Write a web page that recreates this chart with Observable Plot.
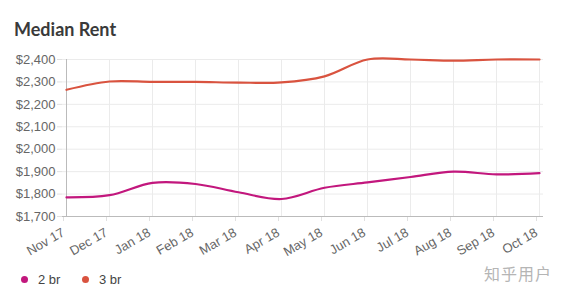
<!DOCTYPE html>
<html>
<head>
<meta charset="utf-8">
<script src="https://cdn.jsdelivr.net/npm/d3@7"></script>
<script src="https://cdn.jsdelivr.net/npm/@observablehq/plot@0.6"></script>
<style>
  body { margin: 0; background: #fff; font-family: "Liberation Sans", sans-serif; width: 569px; height: 294px; overflow: hidden; position: relative; }
  #title { position: absolute; left: 14px; top: 18px; font-size: 18px; font-weight: bold; color: #3a3a3a; font-family: "Lato", "Open Sans", sans-serif; }
  #chart { position: absolute; left: 0; top: 40px; }
  #legend { position: absolute; left: 0; top: 268px; font-size: 13px; color: #444; }
  .item { position: absolute; white-space: nowrap; display: flex; align-items: center; }
  .dot { width: 7px; height: 7px; border-radius: 50%; display: inline-block; margin-right: 10px; }
  #wm { position: absolute; left: 484px; top: 261px; font-size: 16px; color: #b5b5b5; font-family: "Noto Sans CJK SC", sans-serif; letter-spacing: 1px; }
</style>
</head>
<body>
<div id="title">Median Rent</div>
<div id="chart"></div>
<div id="legend">
  <div class="item" style="left:21px;top:4px"><span class="dot" style="background:#c2177d"></span>2 br</div>
  <div class="item" style="left:82px;top:4px"><span class="dot" style="background:#d9533f"></span>3 br</div>
</div>
<div id="wm">知乎用户</div>
<script>
const months = ["Nov 17","Dec 17","Jan 18","Feb 18","Mar 18","Apr 18","May 18","Jun 18","Jul 18","Aug 18","Sep 18","Oct 18"];
const br2 = [1785, 1795, 1850, 1845, 1808, 1778, 1828, 1852, 1876, 1900, 1888, 1893];
const br3 = [2265, 2302, 2300, 2300, 2297, 2298, 2325, 2400, 2400, 2395, 2400, 2400];
const yTicks = [1700, 1800, 1900, 2000, 2100, 2200, 2300, 2400];
const series = ["2 br", "3 br"];
const colors = ["#c2177d", "#d9533f"];

const data = [];
months.forEach((m, i) => {
  data.push({month: m, value: br2[i], s: series[0]});
  data.push({month: m, value: br3[i], s: series[1]});
});

const chart = Plot.plot({
  width: 569,
  height: 225,
  marginLeft: 62,
  marginRight: 26,
  marginTop: 19,
  marginBottom: 49,
  style: {fontFamily: "'Liberation Sans', sans-serif", fontSize: "13px", color: "#666", background: "transparent", overflow: "visible"},
  x: {type: "point", domain: months, padding: 0, label: null},
  y: {domain: [1700, 2400], label: null},
  color: {domain: series, range: colors},
  marks: [
    Plot.ruleY(yTicks, {stroke: "#ebebeb", strokeWidth: 1}),
    Plot.ruleX(months, {stroke: "#ebebeb", strokeWidth: 1}),
    Plot.axisY({ticks: yTicks, tickFormat: d3.format("$,"), tickSize: 5, stroke: "#e0e0e0", tickPadding: 2, fill: "#666", fontSize: 13}),
    Plot.axisX({tickSize: 5, stroke: "#e0e0e0", tickRotate: -30, fill: "#666", fontSize: 13, tickPadding: 10, dx: -3}),
    Plot.ruleX([months[0]], {stroke: "#bbb"}),
    Plot.ruleY([1700], {stroke: "#bbb"}),
    Plot.line(data, {x: "month", y: "value", z: "s", stroke: "s", strokeWidth: 2.2, curve: "catmull-rom"})
  ]
});
document.getElementById("chart").appendChild(chart);
</script>
</body>
</html>
